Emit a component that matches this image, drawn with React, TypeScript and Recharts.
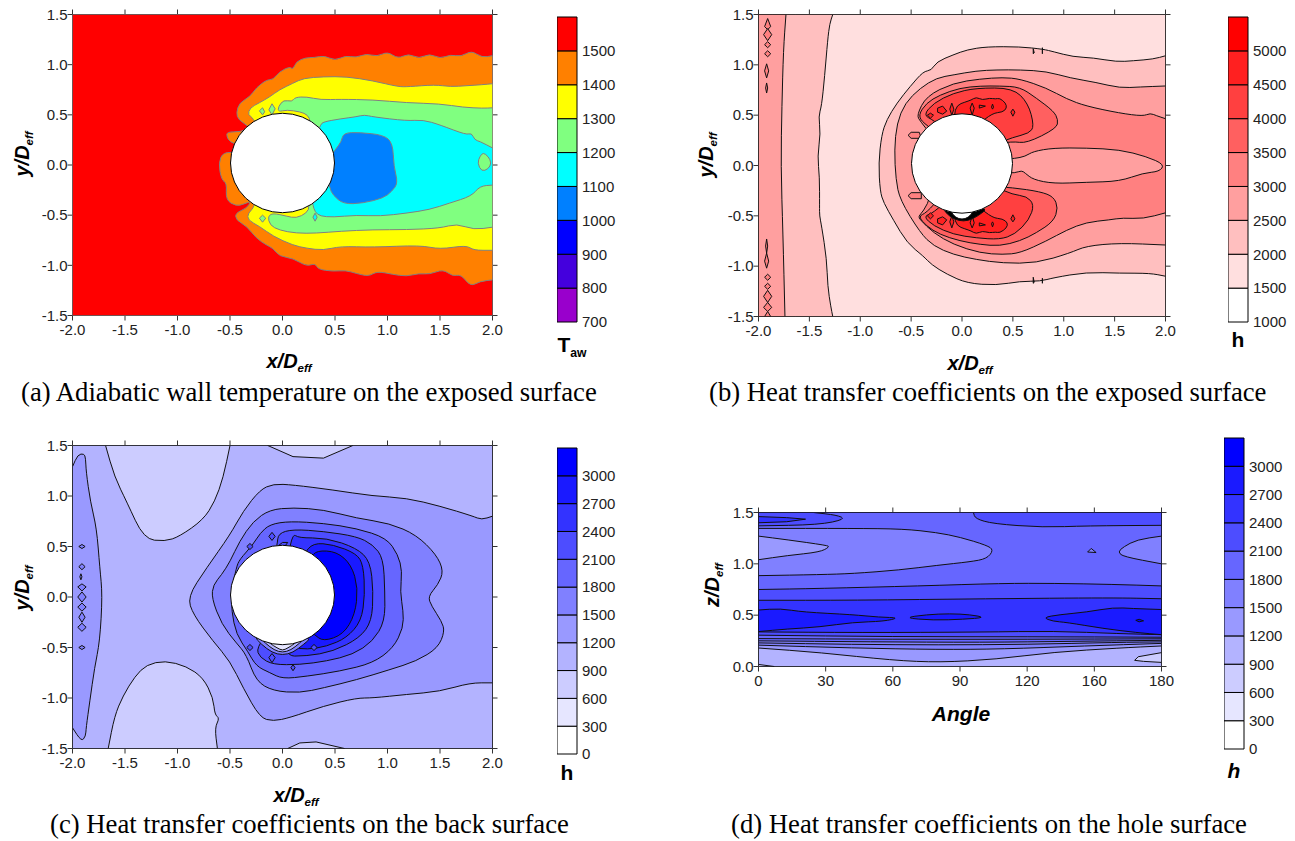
import React from "react";
import { ScatterChart, Scatter, XAxis, YAxis } from "recharts";

type Pt = [number, number];
type Layer = { pts: Pt[]; fill: string };

const posTicks = [-2, -1.5, -1, -0.5, 0, 0.5, 1, 1.5, 2];
const yTicks = [-1.5, -1, -0.5, 0, 0.5, 1, 1.5];
const angleTicks = [0, 30, 60, 90, 120, 150, 180];
const angleLabels = ["0", "30", "60", "90", "120", "160", "180"];
const zTicks = [0, 0.5, 1, 1.5];

const tempLevels = [700, 800, 900, 1000, 1100, 1200, 1300, 1400, 1500, 1600];
const tempColors = ["#9900cc", "#4400dd", "#0000ff", "#0080ff", "#00ffff", "#80ff80", "#ffff00", "#ff8000", "#ff0000"];
const redLevels = [1000, 1500, 2000, 2500, 3000, 3500, 4000, 4500, 5000, 5500];
const redColors = ["#ffffff", "#ffdfdf", "#ffbfbf", "#ff9f9f", "#ff8080", "#ff6060", "#ff4040", "#ff2020", "#ff0000"];
const blueLevels = [0, 300, 600, 900, 1200, 1500, 1800, 2100, 2400, 2700, 3000, 3300];
const blueColors = ["#ffffff", "#e6e6ff", "#ccccff", "#b3b3ff", "#9999ff", "#8080ff", "#6666ff", "#4d4dff", "#3333ff", "#1a1aff", "#0000ff"];

const fullPlot: Pt[] = [[-2, -1.5], [2, -1.5], [2, 1.5], [-2, 1.5]];

// (a) adiabatic wall temperature
const aOrange: Pt[] = [[2, 1.09], [1.9, 1.07], [1.8, 1.14], [1.7, 1.08], [1.6, 1.1], [1.5, 1.06], [1.4, 1.11], [1.3, 1.06], [1.2, 1.11], [1.1, 1.06], [1.0, 1.13], [0.9, 1.08], [0.8, 1.11], [0.7, 1.07], [0.6, 1.09], [0.5, 1.04], [0.4, 1.09], [0.3, 1.07], [0.22, 1.07], [0.13, 1.03], [0.1, 0.95], [0.07, 0.98], [-0.03, 0.93], [-0.09, 0.85], [-0.15, 0.85], [-0.25, 0.77], [-0.31, 0.68], [-0.41, 0.62], [-0.44, 0.52], [-0.42, 0.45], [-0.3, 0.37], [-0.4, 0.33], [-0.53, 0.33], [-0.53, 0.28], [-0.5, 0.23], [-0.42, 0.2], [-0.42, 0.12], [-0.565, 0.13], [-0.61, 0.02], [-0.58, -0.15], [-0.53, -0.18], [-0.54, -0.35], [-0.44, -0.41], [-0.37, -0.39], [-0.3, -0.36], [-0.34, -0.43], [-0.45, -0.48], [-0.44, -0.55], [-0.34, -0.61], [-0.25, -0.73], [-0.15, -0.8], [-0.09, -0.83], [-0.03, -0.91], [0.1, -0.93], [0.23, -1.01], [0.31, -0.98], [0.34, -1.04], [0.48, -1.06], [0.6, -1.05], [0.7, -1.08], [0.82, -1.11], [0.9, -1.06], [1.05, -1.09], [1.18, -1.11], [1.3, -1.08], [1.4, -1.09], [1.53, -1.04], [1.62, -1.11], [1.7, -1.09], [1.79, -1.21], [1.88, -1.16], [2, -1.145]];
const aYellow: Pt[] = [[2, 0.81], [1.9, 0.8], [1.75, 0.79], [1.6, 0.78], [1.45, 0.8], [1.2, 0.78], [1.1, 0.78], [0.86, 0.84], [0.61, 0.88], [0.39, 0.88], [0.2, 0.865], [0.1, 0.815], [-0.03, 0.75], [-0.12, 0.68], [-0.22, 0.62], [-0.31, 0.57], [-0.33, 0.5], [-0.28, 0.47], [-0.2, 0.3], [-0.25, -0.4], [-0.33, -0.48], [-0.33, -0.55], [-0.22, -0.61], [-0.09, -0.71], [0.1, -0.8], [0.23, -0.83], [0.39, -0.85], [0.55, -0.81], [0.86, -0.82], [1.31, -0.8], [1.5, -0.84], [1.75, -0.8], [1.82, -0.85], [2, -0.85]];
const aGreen: Pt[] = [[2, 0.57], [1.91, 0.565], [1.72, 0.575], [1.5, 0.61], [1.18, 0.62], [0.86, 0.65], [0.55, 0.655], [0.36, 0.65], [0.23, 0.68], [0.12, 0.675], [0.09, 0.63], [0.01, 0.65], [-0.04, 0.58], [-0.04, 0.53], [0.04, 0.55], [0.17, 0.53], [0.24, 0.5], [0.27, 0.43], [0.2, 0], [0.26, -0.41], [0.23, -0.48], [0.13, -0.53], [0.04, -0.51], [-0.09, -0.48], [-0.14, -0.51], [-0.12, -0.6], [-0.03, -0.65], [0.13, -0.68], [0.32, -0.68], [0.55, -0.66], [0.86, -0.645], [1.18, -0.645], [1.5, -0.63], [1.66, -0.585], [1.82, -0.645], [2, -0.62]];
const aGreenBits: Pt[][] = [
  [[-0.22, 0.54], [-0.19, 0.57], [-0.17, 0.53], [-0.19, 0.5]],
  [[-0.13, 0.55], [-0.1, 0.61], [-0.07, 0.56], [-0.1, 0.5]],
  [[-0.22, -0.53], [-0.19, -0.5], [-0.16, -0.53], [-0.19, -0.57]],
  [[1.91, 0.125], [1.96, 0.085], [1.99, 0.02], [1.96, -0.04], [1.895, -0.065], [1.857, 0.02], [1.88, 0.085]],
];
const aCyan: Pt[] = [[2, 0.17], [1.88, 0.235], [1.83, 0.25], [1.8, 0.32], [1.75, 0.3], [1.5, 0.4], [1.34, 0.45], [1.18, 0.44], [0.86, 0.48], [0.78, 0.5], [0.7, 0.48], [0.55, 0.46], [0.39, 0.43], [0.36, 0.4], [0.2, 0], [0.29, -0.4], [0.31, -0.47], [0.36, -0.51], [0.48, -0.52], [0.7, -0.5], [0.93, -0.51], [1.18, -0.48], [1.4, -0.445], [1.59, -0.38], [1.8, -0.31], [1.88, -0.21], [2, -0.2]];
const aCyanBit: Pt[] = [[0.31, -0.48], [0.33, -0.52], [0.31, -0.56], [0.29, -0.52]];
const aBlue: Pt[] = [[0.58, 0.32], [0.73, 0.325], [0.96, 0.3], [1.05, 0.22], [1.06, -0.015], [1.1, -0.18], [1.04, -0.265], [0.96, -0.33], [0.77, -0.38], [0.58, -0.39], [0.48, -0.3], [0.45, -0.23], [0.4, 0], [0.5, 0.15], [0.56, 0.23]];

// (b) heat transfer, exposed surface
const bLeft1: Pt[] = [[-2, 1.5], [-1.27, 1.5], [-1.3, 1.41], [-1.32, 1.25], [-1.35, 0.885], [-1.38, 0.59], [-1.41, 0.49], [-1.39, 0.32], [-1.42, 0.09], [-1.4, -0.11], [-1.4, -0.41], [-1.4, -0.5], [-1.38, -0.6], [-1.33, -0.93], [-1.32, -1.2], [-1.29, -1.4], [-1.27, -1.5], [-2, -1.5]];
const bLeft2: Pt[] = [[-2, 1.5], [-1.73, 1.5], [-1.755, 1.15], [-1.77, 0.59], [-1.78, 0], [-1.76, -0.67], [-1.74, -1.5], [-2, -1.5]];
const bLeftBits: Pt[][] = [
  [[-1.91, 1.46], [-1.88, 1.38], [-1.91, 1.35], [-1.94, 1.38]],
  [[-1.91, 1.36], [-1.87, 1.3], [-1.91, 1.24], [-1.95, 1.3]],
  [[-1.91, 1.23], [-1.88, 1.2], [-1.91, 1.17], [-1.94, 1.2]],
  [[-1.91, 1.14], [-1.88, 1.11], [-1.91, 1.08], [-1.94, 1.11]],
  [[-1.92, 1.01], [-1.9, 0.94], [-1.92, 0.87], [-1.94, 0.94]],
  [[-1.92, 0.82], [-1.91, 0.77], [-1.92, 0.72], [-1.93, 0.77]],
  [[-1.92, -0.73], [-1.91, -0.8], [-1.92, -0.87], [-1.93, -0.8]],
  [[-1.92, -0.87], [-1.9, -0.95], [-1.92, -1.02], [-1.94, -0.95]],
  [[-1.91, -1.08], [-1.88, -1.11], [-1.91, -1.14], [-1.94, -1.11]],
  [[-1.91, -1.17], [-1.88, -1.2], [-1.91, -1.23], [-1.94, -1.2]],
  [[-1.91, -1.24], [-1.87, -1.3], [-1.91, -1.36], [-1.95, -1.3]],
  [[-1.91, -1.36], [-1.87, -1.41], [-1.91, -1.45], [-1.95, -1.41]],
  [[-1.91, -1.45], [-1.88, -1.5], [-1.94, -1.5]],
];
const bOuter1: Pt[] = [[2, 1.09], [1.88, 1.057], [1.68, 1.04], [1.52, 1.03], [1.29, 1.07], [1.09, 1.08], [0.9, 1.13], [0.8, 1.155], [0.57, 1.18], [0.24, 1.18], [0.05, 1.15], [-0.085, 1.1], [-0.25, 1.03], [-0.3, 0.945], [-0.38, 0.935], [-0.51, 0.785], [-0.64, 0.62], [-0.74, 0.455], [-0.79, 0.305], [-0.82, 0.025], [-0.805, -0.255], [-0.77, -0.37], [-0.675, -0.54], [-0.54, -0.77], [-0.38, -0.9], [-0.3, -0.985], [-0.15, -1.08], [0.05, -1.17], [0.34, -1.19], [0.57, -1.15], [0.77, -1.15], [0.9, -1.115], [1.22, -1.06], [1.55, -1.07], [1.85, -1.07], [2, -1.1]];
const bOuter2: Pt[] = [[2, 0.79], [1.75, 0.78], [1.55, 0.77], [1.32, 0.825], [1.06, 0.87], [0.83, 0.935], [0.57, 0.95], [0.34, 0.95], [0.14, 0.94], [-0.085, 0.9], [-0.25, 0.87], [-0.41, 0.77], [-0.56, 0.62], [-0.64, 0.42], [-0.665, 0.157], [-0.65, -0.14], [-0.61, -0.34], [-0.41, -0.67], [-0.28, -0.8], [-0.085, -0.885], [0.14, -0.935], [0.4, -0.97], [0.73, -0.97], [1.06, -0.87], [1.22, -0.8], [1.55, -0.77], [2, -0.79]];
const bCore: Pt[] = [[2, 0.465], [1.91, 0.495], [1.85, 0.52], [1.78, 0.49], [1.55, 0.52], [1.22, 0.59], [1.03, 0.66], [0.83, 0.77], [0.57, 0.86], [0.4, 0.875], [0.18, 0.86], [-0.085, 0.82], [-0.35, 0.69], [-0.445, 0.5], [-0.41, 0.44], [-0.3, 0.3], [-0.3, -0.3], [-0.38, -0.455], [-0.43, -0.505], [-0.41, -0.54], [-0.28, -0.67], [-0.085, -0.785], [0.18, -0.87], [0.4, -0.885], [0.57, -0.87], [0.83, -0.75], [1.03, -0.64], [1.22, -0.565], [1.45, -0.54], [1.58, -0.52], [1.78, -0.53], [2, -0.47]];
const bTongue: Pt[] = [[0.4, 0.06], [0.52, 0.07], [0.62, 0.09], [0.7, 0.14], [0.9, 0.174], [1.22, 0.174], [1.55, 0.157], [1.81, 0.09], [1.99, 0.01], [1.94, -0.06], [1.78, -0.075], [1.55, -0.157], [1.22, -0.167], [0.9, -0.18], [0.7, -0.14], [0.62, -0.075], [0.586, -0.05], [0.52, -0.075], [0.4, -0.07]];
const bTopLobe60: Pt[] = [[0.5, 0.24], [0.635, 0.22], [0.93, 0.37], [0.945, 0.455], [0.9, 0.54], [0.73, 0.67], [0.57, 0.78], [0.37, 0.79], [0.18, 0.79], [-0.02, 0.77], [-0.22, 0.7], [-0.35, 0.62], [-0.43, 0.5], [-0.38, 0.42], [-0.2, 0.3], [0.2, 0.2]];
const bLowLobe60: Pt[] = [[0.5, -0.22], [0.77, -0.26], [0.9, -0.31], [0.945, -0.42], [0.9, -0.555], [0.73, -0.67], [0.57, -0.75], [0.37, -0.8], [0.18, -0.785], [-0.02, -0.75], [-0.22, -0.685], [-0.35, -0.6], [-0.43, -0.505], [-0.35, -0.47], [-0.2, -0.3], [0.2, -0.2]];
const bTopLobe40: Pt[] = [[0.5, 0.28], [0.66, 0.32], [0.71, 0.39], [0.65, 0.62], [0.5, 0.77], [0.14, 0.77], [-0.085, 0.72], [-0.28, 0.62], [-0.38, 0.5], [-0.28, 0.45], [-0.1, 0.3], [0.3, 0.2]];
const bLowLobe40: Pt[] = [[0.5, -0.29], [0.635, -0.305], [0.71, -0.39], [0.66, -0.54], [0.52, -0.685], [0.37, -0.735], [0.14, -0.72], [-0.085, -0.685], [-0.28, -0.6], [-0.38, -0.505], [-0.28, -0.47], [-0.1, -0.3], [0.3, -0.2]];
const bTopLobe20: Pt[] = [[-0.08, 0.5], [-0.05, 0.6], [0.03, 0.63], [0.09, 0.65], [0.14, 0.68], [0.2, 0.65], [0.27, 0.67], [0.33, 0.66], [0.37, 0.67], [0.43, 0.62], [0.44, 0.57], [0.4, 0.53], [0.3, 0.52], [0.15, 0.4], [-0.05, 0.4]];
const bLowLobe20: Pt[] = [[-0.08, -0.5], [-0.05, -0.6], [0.03, -0.63], [0.09, -0.65], [0.14, -0.68], [0.2, -0.65], [0.27, -0.67], [0.33, -0.66], [0.37, -0.67], [0.44, -0.62], [0.45, -0.57], [0.4, -0.53], [0.3, -0.52], [0.15, -0.4], [-0.05, -0.4]];
const bTail: Pt[][] = [
  [[-0.53, 0.3], [-0.5, 0.33], [-0.42, 0.33], [-0.4, 0.27], [-0.5, 0.27]],
  [[-0.53, -0.3], [-0.5, -0.27], [-0.4, -0.27], [-0.4, -0.33], [-0.5, -0.33]],
];
const bSpots: Pt[][] = [
  [[-0.31, 0.52], [-0.28, 0.5], [-0.31, 0.47], [-0.34, 0.5]],
  [[-0.31, -0.47], [-0.28, -0.5], [-0.31, -0.53], [-0.34, -0.5]],
  [[-0.24, 0.57], [-0.19, 0.59], [-0.15, 0.54], [-0.19, 0.51], [-0.24, 0.53]],
  [[-0.24, -0.53], [-0.19, -0.51], [-0.15, -0.54], [-0.19, -0.59], [-0.24, -0.57]],
  [[-0.1, 0.62], [-0.08, 0.56], [-0.1, 0.5], [-0.12, 0.56]],
  [[-0.1, -0.5], [-0.08, -0.56], [-0.1, -0.62], [-0.12, -0.56]],
  [[0.1, 0.62], [0.12, 0.57], [0.1, 0.5], [0.08, 0.57]],
  [[0.1, -0.5], [0.12, -0.57], [0.1, -0.62], [0.08, -0.57]],
  [[0.17, 0.6], [0.23, 0.59], [0.17, 0.57]],
  [[0.17, -0.57], [0.23, -0.59], [0.17, -0.6]],
  [[0.3, 0.61], [0.31, 0.58], [0.3, 0.56], [0.29, 0.58]],
  [[0.3, -0.56], [0.31, -0.58], [0.3, -0.61], [0.29, -0.58]],
  [[0.5, 0.56], [0.52, 0.53], [0.5, 0.49], [0.48, 0.53]],
  [[0.5, -0.49], [0.52, -0.53], [0.5, -0.56], [0.48, -0.53]],
];
const bBowlOuter: Pt[] = [[-0.2, -0.42], [-0.12, -0.51], [-0.03, -0.55], [0.06, -0.55], [0.16, -0.5], [0.26, -0.42], [0, -0.4]];
const bBowlInner: Pt[] = [[-0.12, -0.45], [-0.06, -0.52], [0, -0.535], [0.06, -0.52], [0.12, -0.45], [0, -0.4]];
const bTicks1: Pt[][] = [
  [[0.7, 1.16], [0.71, 1.12], [0.7, 1.11]],
  [[0.79, 1.17], [0.79, 1.11]],
  [[0.7, -1.11], [0.71, -1.16], [0.7, -1.17]],
  [[0.79, -1.12], [0.79, -1.17]],
];

// (c) heat transfer, back surface
const cLightTL: Pt[] = [[-1.685, 1.5], [-1.6, 1.19], [-1.485, 0.945], [-1.32, 0.575], [-1.12, 0.55], [-0.98, 0.6], [-0.755, 0.765], [-0.645, 0.945], [-0.565, 1.18], [-0.5, 1.5]];
const cLightTC: Pt[] = [[-0.14, 1.5], [0.1, 1.39], [0.39, 1.375], [0.67, 1.5]];
const cLightBL: Pt[] = [[-1.66, -1.5], [-1.6, -1.18], [-1.52, -0.98], [-1.405, -0.785], [-1.295, -0.67], [-1.12, -0.63], [-0.915, -0.685], [-0.755, -0.8], [-0.66, -1.0], [-0.645, -1.165], [-0.6, -1.2], [-0.645, -1.295], [-0.62, -1.5]];
const cLightBC: Pt[] = [[0.05, -1.5], [0.165, -1.445], [0.32, -1.435], [0.59, -1.5]];
const cStrip: Pt[] = [[-2, 1.29], [-1.95, 1.41], [-1.89, 1.42], [-1.875, 1.375], [-1.87, 1.24], [-1.83, 0.945], [-1.77, 0.68], [-1.74, 0.29], [-1.715, 0.02], [-1.74, -0.44], [-1.79, -0.7], [-1.835, -1.03], [-1.87, -1.295], [-1.875, -1.38], [-1.915, -1.43], [-2, -1.295]];
const c99: Pt[] = [[2, 0.8], [1.895, 0.765], [1.815, 0.8], [1.5, 0.9], [1.18, 0.98], [0.86, 1.0], [0.48, 1.06], [0.1, 1.11], [-0.09, 1.12], [-0.215, 1.06], [-0.375, 0.85], [-0.5, 0.615], [-0.725, 0.285], [-0.905, 0], [-0.85, -0.175], [-0.66, -0.44], [-0.5, -0.635], [-0.375, -0.9], [-0.215, -1.195], [-0.09, -1.23], [0.07, -1.195], [0.39, -1.08], [0.705, -1.0], [0.86, -1.0], [1.18, -0.965], [1.5, -0.935], [1.785, -0.85], [2, -0.85]];
const c80: Pt[] = [[0.1, 0.885], [0.39, 0.865], [0.705, 0.78], [1.02, 0.73], [1.275, 0.615], [1.465, 0.42], [1.535, 0.255], [1.48, 0.12], [1.385, 0.005], [1.42, -0.09], [1.515, -0.24], [1.545, -0.34], [1.48, -0.505], [1.275, -0.635], [1.02, -0.72], [0.705, -0.82], [0.39, -0.9], [0.165, -0.95], [-0.09, -0.93], [-0.25, -0.835], [-0.345, -0.57], [-0.44, -0.455], [-0.58, -0.27], [-0.675, -0.01], [-0.66, 0.12], [-0.58, 0.22], [-0.5, 0.35], [-0.41, 0.55], [-0.28, 0.75], [-0.12, 0.865]];
const c66: Pt[] = [[-0.12, 0.72], [0.07, 0.75], [0.39, 0.73], [0.705, 0.68], [0.99, 0.585], [1.1, 0.42], [1.14, 0.255], [1.12, 0.055], [1.15, -0.14], [1.15, -0.305], [1.055, -0.505], [0.86, -0.655], [0.545, -0.735], [0.23, -0.785], [0, -0.81], [-0.12, -0.75], [-0.25, -0.685], [-0.33, -0.54], [-0.44, -0.37], [-0.485, -0.14], [-0.485, 0.06], [-0.44, 0.29], [-0.41, 0.37], [-0.28, 0.52], [-0.215, 0.63]];
const c4d: Pt[] = [[-0.04, 0.63], [0.1, 0.67], [0.39, 0.65], [0.705, 0.6], [0.86, 0.52], [0.96, 0.385], [0.975, 0.055], [0.975, -0.24], [0.86, -0.44], [0.67, -0.57], [0.42, -0.635], [0.165, -0.67], [-0.09, -0.67], [-0.215, -0.6], [-0.25, -0.505], [-0.1, -0.3], [-0.1, 0.3], [-0.05, 0.52]];
const c33: Pt[] = [[0.1, 0.63], [0.15, 0.585], [0.42, 0.585], [0.705, 0.485], [0.835, 0.355], [0.865, 0.055], [0.85, -0.24], [0.735, -0.405], [0.48, -0.54], [0.23, -0.585], [0, -0.585], [0, 0], [0.05, 0.4]];
const c1a: Pt[] = [[0.29, 0.535], [0.48, 0.52], [0.705, 0.43], [0.77, 0.315], [0.785, 0.02], [0.75, -0.24], [0.61, -0.405], [0.42, -0.49], [0.23, -0.52], [0.1, -0.5], [0.05, -0.3], [0.05, 0.2], [0.2, 0.42]];
const c00: Pt[] = [[0.325, 0.46], [0.515, 0.45], [0.655, 0.32], [0.72, 0.09], [0.69, -0.175], [0.58, -0.37], [0.39, -0.44], [0.3, -0.37], [0.1, -0.2], [0.1, 0.2], [0.27, 0.39]];
const cStripBits: Pt[][] = [
  [[-1.94, 0.5], [-1.91, 0.52], [-1.88, 0.5], [-1.91, 0.48]],
  [[-1.94, 0.3], [-1.91, 0.33], [-1.88, 0.3], [-1.91, 0.27]],
  [[-1.92, 0.23], [-1.91, 0.2], [-1.92, 0.17], [-1.93, 0.2]],
  [[-1.95, 0.1], [-1.91, 0.13], [-1.87, 0.1], [-1.91, 0.06]],
  [[-1.95, 0], [-1.91, 0.05], [-1.87, 0], [-1.91, -0.05]],
  [[-1.95, -0.1], [-1.91, -0.06], [-1.87, -0.1], [-1.91, -0.14]],
  [[-1.94, -0.2], [-1.91, -0.15], [-1.88, -0.2], [-1.91, -0.25]],
  [[-1.95, -0.3], [-1.91, -0.26], [-1.87, -0.3], [-1.91, -0.34]],
  [[-1.94, -0.5], [-1.91, -0.48], [-1.88, -0.5], [-1.91, -0.52]],
  [[1.585, 0.22], [1.6, 0.2], [1.615, 0.2], [1.6, 0.17]],
];
const cSpots: Pt[][] = [
  [[-0.34, 0.5], [-0.31, 0.53], [-0.28, 0.5], [-0.31, 0.47]],
  [[-0.13, 0.6], [-0.1, 0.64], [-0.07, 0.6], [-0.1, 0.56]],
  [[-0.34, -0.5], [-0.31, -0.47], [-0.28, -0.5], [-0.31, -0.53]],
  [[-0.13, -0.6], [-0.1, -0.56], [-0.07, -0.6], [-0.1, -0.65]],
  [[0.08, -0.7], [0.1, -0.67], [0.12, -0.7], [0.1, -0.73]],
  [[0.27, -0.5], [0.3, -0.47], [0.33, -0.5], [0.3, -0.53]],
  [[0, 0.54], [0.05, 0.54], [0.02, 0.5], [-0.05, 0.5]],
];
const cBowl1: Pt[] = [[-0.28, -0.38], [-0.2, -0.47], [-0.1, -0.55], [0, -0.575], [0.1, -0.55], [0.2, -0.47], [0.28, -0.4], [0, -0.4]];
const cBowl2: Pt[] = [[-0.24, -0.38], [-0.16, -0.46], [-0.08, -0.525], [0, -0.55], [0.08, -0.525], [0.16, -0.46], [0.24, -0.38], [0, -0.4]];
const cBowl3: Pt[] = [[-0.2, -0.38], [-0.12, -0.46], [-0.05, -0.505], [0, -0.53], [0.05, -0.505], [0.12, -0.46], [0.2, -0.38], [0, -0.4]];

// (d) heat transfer, hole surface
const dPlot: Pt[] = [[0, 0], [180, 0], [180, 1.5], [0, 1.5]];
const dCorner: Pt[] = [[0, 0.02], [7, 0], [0, 0]];
const dLowRight: Pt[] = [[168, 0.06], [169.6, 0.095], [180, 0.135], [180, 0.04], [172, 0.05]];
const dLine1: Pt[] = [[0, 0.18], [27.5, 0.136], [60, 0.06], [81, 0.04], [106, 0.07], [132, 0.14], [161, 0.18], [180, 0.2], [180, 1.5], [0, 1.5]];
const dLine2: Pt[] = [[0, 0.208], [42, 0.18], [80, 0.165], [109, 0.17], [146, 0.2], [180, 0.225], [180, 1.5], [0, 1.5]];
const dLine3: Pt[] = [[0, 0.23], [42, 0.215], [80, 0.21], [120, 0.215], [160, 0.235], [180, 0.24], [180, 1.5], [0, 1.5]];
const dLine4: Pt[] = [[0, 0.25], [50, 0.24], [100, 0.235], [140, 0.245], [180, 0.255], [180, 1.5], [0, 1.5]];
const dLine5: Pt[] = [[0, 0.272], [60, 0.265], [120, 0.265], [180, 0.27], [180, 1.5], [0, 1.5]];
const dLine6: Pt[] = [[0, 0.305], [60, 0.29], [120, 0.29], [180, 0.285], [180, 1.5], [0, 1.5]];
const dLine7: Pt[] = [[0, 0.337], [45, 0.33], [100, 0.335], [132, 0.345], [161, 0.32], [180, 0.31], [180, 1.5], [0, 1.5]];
const dUpper4d: Pt[] = [[0, 0.645], [42, 0.645], [102, 0.66], [158, 0.67], [180, 0.66], [180, 1.5], [0, 1.5]];
const dUpper66: Pt[] = [[0, 0.75], [27.5, 0.76], [72, 0.785], [109, 0.81], [132, 0.81], [158, 0.8], [180, 0.785], [180, 1.5], [0, 1.5]];
const dIslandL: Pt[] = [[0, 0.885], [27.5, 0.895], [42, 0.905], [63, 0.94], [79.6, 0.985], [94.5, 1.02], [102, 1.05], [105, 1.135], [102, 1.18], [90, 1.26], [79.6, 1.305], [64.7, 1.34], [42, 1.345], [0, 1.345]];
const dIslandL2: Pt[] = [[0, 1.27], [12.6, 1.235], [30.5, 1.18], [31.7, 1.165], [27.5, 1.115], [12.6, 1.08], [0, 1.04]];
const dIslandR: Pt[] = [[180, 1.27], [169, 1.235], [163, 1.165], [160.5, 1.115], [163, 1.07], [180, 1.0]];
const dTiny: Pt[] = [[147, 1.115], [148.6, 1.15], [150.8, 1.11]];
const dTopL: Pt[] = [[0, 1.37], [27, 1.38], [39, 1.435], [35, 1.475], [24.5, 1.5], [0, 1.5]];
const dTopLDark: Pt[] = [[0, 1.46], [12.6, 1.45], [21, 1.435], [12.6, 1.41], [0, 1.4]];
const dTopR: Pt[] = [[96, 1.5], [96.8, 1.44], [104.8, 1.39], [127, 1.355], [146.5, 1.37], [180, 1.375], [180, 1.5]];
const dDarkL: Pt[] = [[0, 0.55], [9.7, 0.565], [20, 0.53], [42, 0.505], [54, 0.48], [63, 0.475], [56, 0.44], [42, 0.43], [27.5, 0.385], [12.6, 0.365], [0, 0.34]];
const dDarkM: Pt[] = [[64.7, 0.474], [75, 0.505], [85.5, 0.515], [94.5, 0.505], [101.5, 0.477], [91.5, 0.46], [78, 0.45]];
const dDarkR: Pt[] = [[127, 0.477], [134.5, 0.505], [146.5, 0.53], [158.5, 0.575], [167, 0.565], [180, 0.555], [180, 0.31], [169, 0.33], [154, 0.37], [137.5, 0.43], [131.5, 0.44]];
const dSpot: Pt[] = [[168.5, 0.45], [170, 0.46], [172, 0.445], [170, 0.435]];

const many = (list: Pt[][], fill: string): Layer[] => list.map((pts) => ({ pts, fill }));

const panelA: Layer[] = [
  { pts: fullPlot, fill: "#ff0000" },
  { pts: aOrange, fill: "#ff8000" },
  { pts: aYellow, fill: "#ffff00" },
  { pts: aGreen, fill: "#80ff80" },
  { pts: aCyan, fill: "#00ffff" },
  ...many(aGreenBits, "#80ff80"),
  { pts: aCyanBit, fill: "#00ffff" },
  { pts: aBlue, fill: "#0080ff" },
];
const panelB: Layer[] = [
  { pts: fullPlot, fill: "#ffdfdf" },
  { pts: bLeft1, fill: "#ffbfbf" },
  { pts: bLeft2, fill: "#ff9f9f" },
  ...many(bLeftBits, "#ff8080"),
  { pts: bOuter1, fill: "#ffbfbf" },
  { pts: bOuter2, fill: "#ff9f9f" },
  ...many(bTail, "#ff8080"),
  { pts: bCore, fill: "#ff8080" },
  { pts: bTongue, fill: "#ff9f9f" },
  { pts: bTopLobe60, fill: "#ff6060" },
  { pts: bLowLobe60, fill: "#ff6060" },
  { pts: bTopLobe40, fill: "#ff4040" },
  { pts: bLowLobe40, fill: "#ff4040" },
  { pts: bTopLobe20, fill: "#ff2020" },
  { pts: bLowLobe20, fill: "#ff2020" },
  ...many(bSpots, "#ff2020"),
  { pts: bBowlOuter, fill: "#000000" },
  { pts: bBowlInner, fill: "#ffffff" },
  ...many(bTicks1, "#000000"),
];
const panelC: Layer[] = [
  { pts: fullPlot, fill: "#b3b3ff" },
  { pts: cLightTL, fill: "#ccccff" },
  { pts: cLightTC, fill: "#ccccff" },
  { pts: cLightBL, fill: "#ccccff" },
  { pts: cLightBC, fill: "#ccccff" },
  { pts: cStrip, fill: "#9999ff" },
  ...many(cStripBits, "#8080ff"),
  { pts: c99, fill: "#9999ff" },
  { pts: c80, fill: "#8080ff" },
  { pts: c66, fill: "#6666ff" },
  { pts: c4d, fill: "#4d4dff" },
  { pts: c33, fill: "#3333ff" },
  { pts: c1a, fill: "#1a1aff" },
  { pts: c00, fill: "#0000ff" },
  ...many(cSpots, "#4d4dff"),
  { pts: cBowl1, fill: "#8080ff" },
  { pts: cBowl2, fill: "#b3b3ff" },
  { pts: cBowl3, fill: "#e6e6ff" },
];
const panelD: Layer[] = [
  { pts: dPlot, fill: "#b3b3ff" },
  { pts: dCorner, fill: "#ccccff" },
  { pts: dLowRight, fill: "#ccccff" },
  { pts: dLine1, fill: "#9999ff" },
  { pts: dLine2, fill: "#8080ff" },
  { pts: dLine3, fill: "#8080ff" },
  { pts: dLine4, fill: "#6666ff" },
  { pts: dLine5, fill: "#6666ff" },
  { pts: dLine6, fill: "#4d4dff" },
  { pts: dLine7, fill: "#3333ff" },
  { pts: dDarkL, fill: "#1a1aff" },
  { pts: dDarkM, fill: "#1a1aff" },
  { pts: dDarkR, fill: "#1a1aff" },
  { pts: dSpot, fill: "#0000ff" },
  { pts: dUpper4d, fill: "#4d4dff" },
  { pts: dUpper66, fill: "#6666ff" },
  { pts: dIslandL, fill: "#8080ff" },
  { pts: dIslandL2, fill: "#9999ff" },
  { pts: dIslandR, fill: "#8080ff" },
  { pts: dTiny, fill: "#8080ff" },
  { pts: dTopL, fill: "#4d4dff" },
  { pts: dTopLDark, fill: "#3333ff" },
  { pts: dTopR, fill: "#4d4dff" },
];

const sans = "'Liberation Sans', Arial, sans-serif";
const tickStyle = { fontFamily: sans, fontSize: 15, fill: "#222" };

const asRows = (pts: Pt[]) => pts.map(([x, y]) => ({ x, y }));
const noMark = () => <g />;

// rounds a contour through its midpoints, plot-edge corners stay sharp
function contourPath(points: { x: number; y: number }[], pts: Pt[], xDom: number[], yDom: number[]) {
  const n = points.length;
  if (n <= 5) return points.map((p, i) => `${i ? "L" : "M"}${p.x} ${p.y}`).join(" ") + " Z";
  const mid = (a: { x: number; y: number }, b: { x: number; y: number }) => `${(a.x + b.x) / 2} ${(a.y + b.y) / 2}`;
  let d = `M${mid(points[n - 1], points[0])}`;
  points.forEach((p, i) => {
    const next = points[(i + 1) % n];
    const onEdge = xDom.includes(pts[i][0]) || yDom.includes(pts[i][1]);
    d += onEdge ? ` L${p.x} ${p.y} L${mid(p, next)}` : ` Q${p.x} ${p.y} ${mid(p, next)}`;
  });
  return d + " Z";
}

type PanelProps = {
  left: number;
  top: number;
  width: number;
  height: number;
  layers: Layer[];
  stroke: string;
  xDomain: [number, number];
  yDomain: [number, number];
  xTicks: number[];
  yAxisTicks: number[];
  xFormat: (v: number) => string;
  hole?: { x: number; y: number; rx: number; ry: number };
};

function Panel({ left, top, width, height, layers, stroke, xDomain, yDomain, xTicks, yAxisTicks, xFormat, hole }: PanelProps) {
  const boxLeft = Math.floor(left) - 48;
  const boxTop = Math.floor(top) - 12;
  const yW = 40;
  const topH = 6;
  const rightW = 6;
  const bottomH = 26;
  const boxW = width + 48 + 24;
  const boxH = height + 12 + 34;
  const margin = {
    left: left - boxLeft - yW,
    top: top - boxTop - topH,
    right: boxW - (left - boxLeft) - width - rightW,
    bottom: boxH - (top - boxTop) - height - bottomH,
  };
  const axisColor = "#333";
  return (
    <div style={{ position: "absolute", left: boxLeft, top: boxTop }}>
      <ScatterChart width={boxW} height={boxH} margin={margin}>
        {layers.map((l, i) => (
          <Scatter
            key={i}
            data={asRows(l.pts)}
            line={(p: any) => (
              <path d={contourPath(p.points, l.pts, xDomain, yDomain)} fill={l.fill} stroke={stroke} strokeWidth={1} />
            )}
            shape={noMark}
            isAnimationActive={false}
          />
        ))}
        {hole && (
          <Scatter
            data={[{ x: hole.x, y: hole.y }]}
            shape={(p: any) => <ellipse cx={p.cx} cy={p.cy} rx={hole.rx} ry={hole.ry} fill="#fff" stroke="#000" strokeWidth={1} />}
            isAnimationActive={false}
          />
        )}
        <Scatter xAxisId="top" yAxisId="right" data={[{ x: xDomain[0], y: yDomain[0] }]} shape={noMark} isAnimationActive={false} />
        <XAxis type="number" dataKey="x" domain={xDomain} ticks={xTicks} interval={0} height={bottomH} tickSize={5} tickMargin={4} stroke={axisColor} tick={tickStyle} tickFormatter={xFormat} allowDataOverflow />
        <YAxis type="number" dataKey="y" domain={yDomain} ticks={yAxisTicks} interval={0} width={yW} tickSize={5} tickMargin={0} stroke={axisColor} tick={tickStyle} tickFormatter={(v: number) => v.toFixed(1)} allowDataOverflow />
        <XAxis xAxisId="top" dataKey="x" orientation="top" type="number" domain={xDomain} ticks={xTicks} interval={0} height={topH} tickSize={5} stroke={axisColor} tickFormatter={() => ""} />
        <YAxis yAxisId="right" dataKey="y" orientation="right" type="number" domain={yDomain} ticks={yAxisTicks} interval={0} width={rightW} tickSize={5} stroke={axisColor} tickFormatter={() => ""} />
      </ScatterChart>
    </div>
  );
}

function ColorBar({ left, top, width, height, levels, colors }: { left: number; top: number; width: number; height: number; levels: number[]; colors: string[] }) {
  const boxW = width + 50;
  return (
    <div style={{ position: "absolute", left, top: top - 8 }}>
      <ScatterChart width={boxW} height={height + 16} margin={{ left: 0, right: 0, top: 8, bottom: 8 }}>
        {colors.map((c, i) => (
          <Scatter
            key={i}
            data={[{ x: 0, y: levels[i] }, { x: 1, y: levels[i] }, { x: 1, y: levels[i + 1] }, { x: 0, y: levels[i + 1] }, { x: 0, y: levels[i] }]}
            line={{ fill: c, stroke: "#000", strokeWidth: 1 }}
            shape={noMark}
            isAnimationActive={false}
          />
        ))}
        <XAxis type="number" dataKey="x" domain={[0, 1]} hide />
        <YAxis
          type="number"
          dataKey="y"
          orientation="right"
          domain={[levels[0], levels[levels.length - 1]]}
          ticks={levels.slice(0, -1)}
          interval={0}
          width={50}
          axisLine={false}
          tickLine={false}
          tickSize={0}
          tickMargin={5}
          tick={tickStyle}
        />
      </ScatterChart>
    </div>
  );
}

function Title({ x, y, rotate, size = 20, italic = true, main, sub }: { x: number; y: number; rotate?: boolean; size?: number; italic?: boolean; main: string; sub?: string }) {
  return (
    <div
      style={{
        position: "absolute",
        left: x,
        top: y,
        transform: `translate(-50%, -50%)${rotate ? " rotate(-90deg)" : ""}`,
        fontFamily: sans,
        fontWeight: "bold",
        fontStyle: italic ? "italic" : "normal",
        fontSize: size,
        whiteSpace: "nowrap",
        lineHeight: 1,
        color: "#000",
      }}
    >
      {main}
      {sub && <span style={{ fontSize: size * 0.58, position: "relative", top: size * 0.22 }}>{sub}</span>}
    </div>
  );
}

function Caption({ x, y, text }: { x: number; y: number; text: string }) {
  return (
    <div style={{ position: "absolute", left: x, top: y, fontFamily: "'Liberation Serif', serif", fontSize: 26.7, lineHeight: 1, whiteSpace: "nowrap", color: "#000" }}>
      {text}
    </div>
  );
}

const fmt1 = (v: number) => v.toFixed(1);
const fmtAngle = (v: number) => angleLabels[angleTicks.indexOf(v)] ?? String(v);

export default function App() {
  const pos: [number, number] = [-2, 2];
  const ext: [number, number] = [-1.5, 1.5];
  return (
    <div style={{ position: "absolute", left: 0, top: 0, width: 1295, height: 841, background: "#fff", overflow: "hidden" }}>
      <Panel left={72.5} top={14.5} width={420} height={301} layers={panelA} stroke="#808080" xDomain={pos} yDomain={ext} xTicks={posTicks} yAxisTicks={yTicks} xFormat={fmt1} hole={{ x: 0, y: 0.02, rx: 52, ry: 49.7 }} />
      <Panel left={758.5} top={14.5} width={407} height={302} layers={panelB} stroke="#111" xDomain={pos} yDomain={ext} xTicks={posTicks} yAxisTicks={yTicks} xFormat={fmt1} hole={{ x: 0, y: 0.02, rx: 50.5, ry: 49.7 }} />
      <Panel left={72.5} top={445.5} width={420} height={303} layers={panelC} stroke="#111" xDomain={pos} yDomain={ext} xTicks={posTicks} yAxisTicks={yTicks} xFormat={fmt1} hole={{ x: 0, y: 0.02, rx: 52, ry: 49.7 }} />
      <Panel left={758.5} top={512.5} width={403} height={154} layers={panelD} stroke="#111" xDomain={[0, 180]} yDomain={[0, 1.5]} xTicks={angleTicks} yAxisTicks={zTicks} xFormat={fmtAngle} />

      <ColorBar left={556.5} top={16.5} width={20} height={305} levels={tempLevels} colors={tempColors} />
      <ColorBar left={1227.5} top={16.5} width={20} height={305} levels={redLevels} colors={redColors} />
      <ColorBar left={556.5} top={447.5} width={20} height={306} levels={blueLevels} colors={blueColors} />
      <ColorBar left={1223.5} top={437.5} width={20} height={311} levels={blueLevels} colors={blueColors} />

      <Title x={22} y={154} rotate main="y/D" sub="eff" />
      <Title x={289} y={361} main="x/D" sub="eff" />
      <Title x={706} y={155} rotate main="y/D" sub="eff" />
      <Title x={970} y={363} main="x/D" sub="eff" />
      <Title x={22} y={588} rotate main="y/D" sub="eff" />
      <Title x={296} y={795} main="x/D" sub="eff" />
      <Title x={712} y={585} rotate main="z/D" sub="eff" />
      <Title x={961} y={713} size={21} main="Angle" />
      <Title x={572} y={344} size={21} italic={false} main="T" sub="aw" />
      <Title x={1238} y={339} size={21} italic={false} main="h" />
      <Title x={567} y={772} size={21} italic={false} main="h" />
      <Title x={1234} y={770} size={21} main="h" />

      <Caption x={21} y={379} text="(a) Adiabatic wall temperature on the exposed surface" />
      <Caption x={709} y={379} text="(b) Heat transfer coefficients on the exposed surface" />
      <Caption x={50} y={811} text="(c) Heat transfer coefficients on the back surface" />
      <Caption x={731} y={811} text="(d) Heat transfer coefficients on the hole surface" />
    </div>
  );
}
